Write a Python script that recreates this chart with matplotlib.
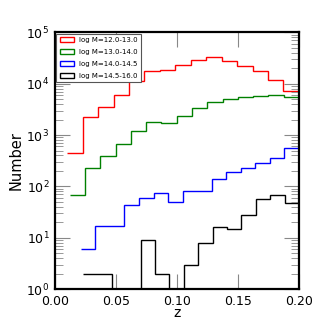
import numpy as np
import matplotlib
matplotlib.use("Agg")
import matplotlib.pyplot as plt
from matplotlib.patches import Patch

# ---- data ----
labels = ["log M=12.0-13.0", "log M=13.0-14.0", "log M=14.0-14.5", "log M=14.5-16.0"]
colors = ["red", "green", "blue", "black"]
z_min = [0.0101, 0.0123, 0.0213, 0.0232]
z_max = 0.2
n_bins = 15
counts_red = [455, 2280, 3550, 5950, 11300, 17400, 18200, 22800, 29300, 33500,
              28000, 22100, 17400, 11650, 7310]
counts_green = [69, 232, 392, 662, 1218, 1798, 1742, 2353, 3400, 4400,
                4970, 5440, 5770, 6110, 5510]
counts_blue = [6, 17, 17, 44, 59, 75, 49, 82, 82, 138, 191, 226, 290, 363, 553]
counts_black = [2, 2, 0, 0, 9, 2, 0, 3, 8, 16, 15, 28, 56, 68, 47]
all_counts = [counts_red, counts_green, counts_blue, counts_black]

fig = plt.figure(figsize=(3.19, 3.22), dpi=100)
ax = fig.add_axes([0.172, 0.1016, 0.765, 0.7984])

for zlo, cnt, col in zip(z_min, all_counts, colors):
    edges = np.linspace(zlo, z_max, n_bins + 1)
    vals = np.array(cnt, dtype=float)
    vals = np.where(vals > 0, vals, 0.1)
    ax.stairs(vals, edges, baseline=None, color=col, lw=1.0)

ax.set_yscale("log")
ax.set_xlim(0.0, 0.2)
ax.set_ylim(1, 1e5)
ax.set_xticks([0.0, 0.05, 0.10, 0.15, 0.20])
ax.set_xticklabels(["0.00", "0.05", "0.10", "0.15", "0.20"])

for s in ax.spines.values():
    s.set_linewidth(1.6)

ax.tick_params(which="both", direction="in", top=True, right=True,
               color="#888888", labelsize=9)
ax.tick_params(which="major", length=11, width=0.8, pad=4)
ax.tick_params(which="minor", length=5.5, width=0.6)
ax.tick_params(axis="x", which="minor", bottom=False, top=False)

ax.set_xlabel("z", fontsize=10, labelpad=-1.5)
ax.set_ylabel("Number", fontsize=10.5, labelpad=2)

handles = [Patch(facecolor="none", edgecolor=c, lw=1.0) for c in colors]
leg = ax.legend(handles, labels, loc="upper left", fontsize=5,
                fancybox=False, framealpha=1, borderaxespad=0.2,
                handlelength=2.0, labelspacing=0.85, borderpad=0.5)
leg.get_frame().set_edgecolor("#555555")
leg.get_frame().set_linewidth(0.8)

fig.savefig("out.png", dpi=100)
